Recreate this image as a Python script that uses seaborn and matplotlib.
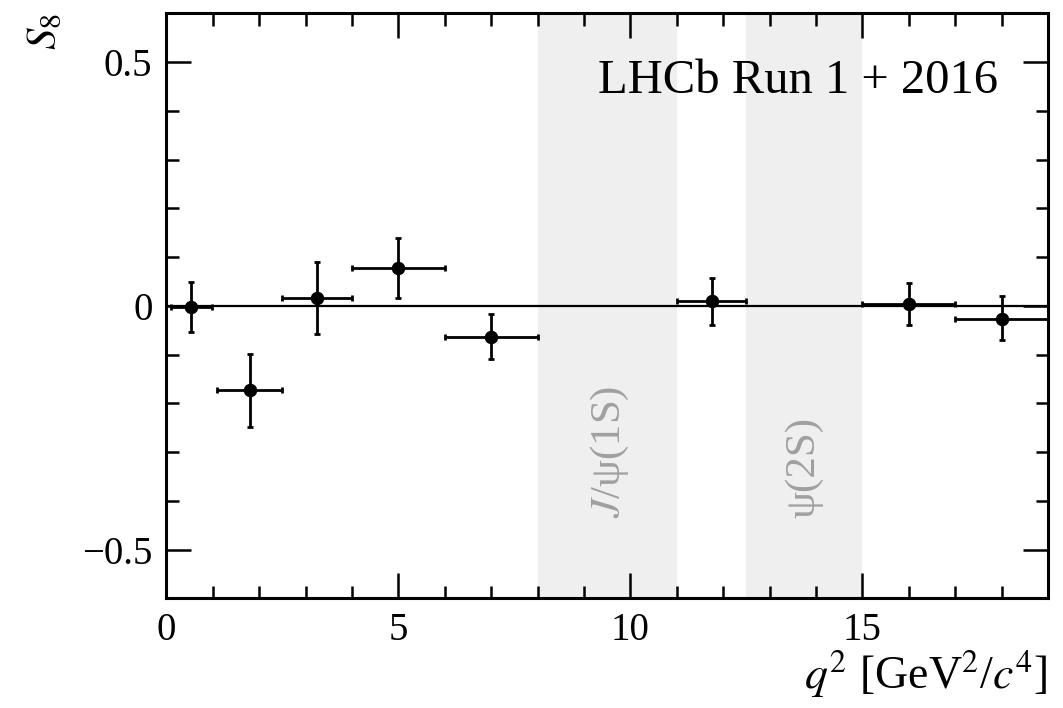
import numpy as np
import pandas as pd
import matplotlib
matplotlib.use("Agg")
import matplotlib.pyplot as plt
from matplotlib.ticker import MultipleLocator
import seaborn as sns

# q2 bins and S8 values
bin_lo = [0.1, 1.1, 2.5, 4.0, 6.0, 11.0, 15.0, 17.0]
bin_hi = [0.98, 2.5, 4.0, 6.0, 8.0, 12.5, 17.0, 19.0]
s8 = [-0.003, -0.173, 0.016, 0.077, -0.063, 0.010, 0.004, -0.026]
err_up = [0.052, 0.075, 0.074, 0.062, 0.046, 0.048, 0.043, 0.046]
err_down = [0.050, 0.075, 0.073, 0.061, 0.046, 0.049, 0.043, 0.045]

# charmonium vetoes
veto_lo = [8.0, 12.5]
veto_hi = [11.0, 15.0]
veto_names = [r"$J$/" + "\u03c8(1S)", "\u03c8(2S)"]
veto_mid = [9.55, 13.75]

df = pd.DataFrame({"lo": bin_lo, "hi": bin_hi, "s8": s8,
                   "up": err_up, "down": err_down})
df["q2"] = (df["lo"] + df["hi"]) / 2

sns.set_theme(style="ticks")
plt.rcParams["font.family"] = ["Liberation Serif", "DejaVu Serif"]
plt.rcParams["mathtext.fontset"] = "stix"
plt.rcParams["text.color"] = "black"
plt.rcParams["axes.labelcolor"] = "black"
plt.rcParams["xtick.color"] = "black"
plt.rcParams["ytick.color"] = "black"

fig = plt.figure(figsize=(10.63, 7.08), dpi=100)
ax = fig.add_axes([0.1565, 0.155, 0.8295, 0.826])

for lo, hi, name, mid in zip(veto_lo, veto_hi, veto_names, veto_mid):
    ax.axvspan(lo, hi, color="#efefef", lw=0, zorder=0)
    ax.text(mid, -0.435, name, rotation=90,
            ha="center", va="bottom", color="#a0a0a0", fontsize=31)

ax.axhline(0, color="black", lw=1.6, zorder=1)

ax.errorbar(df["q2"], df["s8"],
            xerr=[df["q2"] - df["lo"], df["hi"] - df["q2"]],
            yerr=[df["down"], df["up"]],
            fmt="none", ecolor="black", elinewidth=2.0, capsize=2.5,
            capthick=2.0, zorder=2)
sns.scatterplot(data=df, x="q2", y="s8", ax=ax, color="black", s=95,
                edgecolor="black", linewidth=0, zorder=3)

ax.set_xlim(0, 19)
ax.set_ylim(-0.6, 0.6)
ax.xaxis.set_major_locator(MultipleLocator(5))
ax.xaxis.set_minor_locator(MultipleLocator(1))
ax.yaxis.set_major_locator(MultipleLocator(0.5))
ax.yaxis.set_minor_locator(MultipleLocator(0.1))
ax.set_xticks([0, 5, 10, 15])
ax.set_xticklabels(["0", "5", "10", "15"])
ax.set_yticks([-0.5, 0, 0.5])
ax.set_yticklabels(["\u22120.5", "0", "0.5"])

ax.tick_params(which="both", direction="in", top=True, right=True,
               labelsize=28, width=1.8, color="black", labelcolor="black")
ax.tick_params(which="major", length=18, pad=10)
ax.tick_params(which="minor", length=9)
for sp in ax.spines.values():
    sp.set_linewidth(2.2)
    sp.set_color("black")

ax.set_xlabel(r"$q^2$ [GeV$^2$/$c^4$]", fontsize=33, loc="right", labelpad=0)
ax.set_ylabel(r"$S_8$", fontsize=31, loc="top", labelpad=12)

ax.text(0.943, 0.885, "LHCb Run 1 + 2016", transform=ax.transAxes,
        ha="right", va="center", fontsize=35)

fig.savefig("out.png", dpi=100)
